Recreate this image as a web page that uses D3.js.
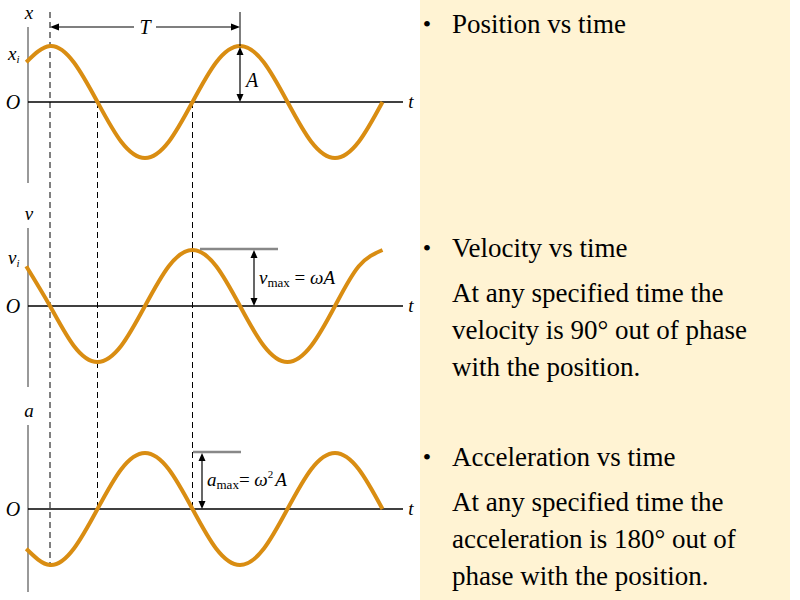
<!DOCTYPE html>
<html><head><meta charset="utf-8">
<script src="https://cdn.jsdelivr.net/npm/d3@7"></script>
<style>body{margin:0;background:#fff} text{font-family:'Liberation Serif','DejaVu Serif',serif}</style></head>
<body><svg id="c" width="800" height="600"></svg>
<script>
// time in eighths of a period (T = 8)
const times = [-1,0,1,2,3,4,5,6,7,8,9,10,11,12,13,14];
const position = [0.71,1,0.71,0,-0.71,-1,-0.71,0,0.71,1,0.71,0,-0.71,-1,-0.71,0];
const velocity = [0.71,0,-0.71,-1,-0.71,0,0.71,1,0.71,0,-0.71,-1,-0.71,0,0.71,1];
const acceleration = [-0.71,-1,-0.71,0,0.71,1,0.71,0,-0.71,-1,-0.71,0,0.71,1,0.71,0];
const panels = [
  {vals: position, axisLabel:"x", init:"x", zero:102},
  {vals: velocity, axisLabel:"v", init:"v", zero:306},
  {vals: acceleration, axisLabel:"a", init:null, zero:509}
];
const bullets = [
  {head:"Position vs time", body:[]},
  {head:"Velocity vs time", body:["At any specified time the","velocity is 90° out of phase","with the position."]},
  {head:"Acceleration vs time", body:["At any specified time the","acceleration is 180° out of","phase with the position."]}
];

const svg = d3.select("#c");
svg.append("rect").attr("x",420).attr("y",0).attr("width",370).attr("height",600).attr("fill","#fff3d3");

const x = d3.scaleLinear().domain([-1,14]).range([26.25,382.5]);
const amp = 56;

const dash = [[0,12,565],[2,102,510],[6,102,510]];
dash.forEach(d=>svg.append("line").attr("x1",x(d[0])).attr("x2",x(d[0])).attr("y1",d[1]).attr("y2",d[2])
  .attr("stroke","#000").attr("stroke-width",1).attr("stroke-dasharray","6,4"));

function arrowV(xp,y1,y2){
  svg.append("line").attr("x1",xp).attr("x2",xp).attr("y1",y1+6).attr("y2",y2-6).attr("stroke","#000").attr("stroke-width",1.2);
  svg.append("path").attr("d",`M${xp},${y1} l-3.5,8 l7,0z`).attr("fill","#000");
  svg.append("path").attr("d",`M${xp},${y2} l-3.5,-8 l7,0z`).attr("fill","#000");
}
function it(sel){return sel.attr("font-style","italic");}

panels.forEach((p,i)=>{
  const y = d3.scaleLinear().domain([-1,1]).range([p.zero+amp,p.zero-amp]);
  const top = [27,228,425][i], bot=[183,387,592][i];
  svg.append("line").attr("x1",28).attr("x2",28).attr("y1",top).attr("y2",bot).attr("stroke","#777").attr("stroke-width",1.5);
  svg.append("line").attr("x1",28).attr("x2",403).attr("y1",p.zero).attr("y2",p.zero).attr("stroke","#000").attr("stroke-width",1.5);
  it(svg.append("text").attr("x",13).attr("y",p.zero+7).text("O").attr("font-size",20).attr("text-anchor","middle"));
  it(svg.append("text").attr("x",411).attr("y",p.zero+6).text("t").attr("font-size",19).attr("text-anchor","middle"));
  it(svg.append("text").attr("x",29).attr("y",top-8).text(p.axisLabel).attr("font-size",19).attr("text-anchor","middle"));
  if(p.init){
    const t = it(svg.append("text").attr("x",8).attr("y",[60,264][i]).attr("font-size",19));
    t.append("tspan").text(p.init);
    t.append("tspan").text("i").attr("font-size",11).attr("dy",3);
  }
  const line = d3.line().x((d,j)=>x(times[j])).y(d=>y(d)).curve(d3.curveNatural);
  svg.append("path").datum(p.vals).attr("d",line).attr("fill","none").attr("stroke","#d98d12").attr("stroke-width",4);
});

svg.append("line").attr("x1",x(8)).attr("x2",x(8)).attr("y1",12).attr("y2",46).attr("stroke","#000");
svg.append("line").attr("x1",x(0)+8).attr("x2",x(8)-8).attr("y1",27).attr("y2",27).attr("stroke","#000").attr("stroke-width",1.2);
svg.append("path").attr("d",`M${x(0)},27 l9,-3.5 l0,7z`);
svg.append("path").attr("d",`M${x(8)},27 l-9,-3.5 l0,7z`);
svg.append("rect").attr("x",134).attr("y",18).attr("width",22).attr("height",18).attr("fill","#fff");
it(svg.append("text").attr("x",145).attr("y",34).text("T").attr("font-size",20).attr("text-anchor","middle"));
arrowV(x(8),47,102);
it(svg.append("text").attr("x",246).attr("y",87).text("A").attr("font-size",20));

svg.append("line").attr("x1",200).attr("x2",278).attr("y1",249).attr("y2",249).attr("stroke","#888").attr("stroke-width",2.5);
arrowV(254,250,306);
let tv = svg.append("text").attr("x",259).attr("y",284).attr("font-size",19);
it(tv.append("tspan").text("v"));
tv.append("tspan").text("max").attr("font-size",13).attr("dy",3);
tv.append("tspan").text(" = ").attr("dy",-3);
it(tv.append("tspan").text("ωA"));

svg.append("line").attr("x1",193).attr("x2",241).attr("y1",452).attr("y2",452).attr("stroke","#888").attr("stroke-width",2.5);
arrowV(202,453,509);
let ta = svg.append("text").attr("x",207).attr("y",486).attr("font-size",19);
it(ta.append("tspan").text("a"));
ta.append("tspan").text("max").attr("font-size",13).attr("dy",3);
ta.append("tspan").text("= ").attr("dy",-3);
it(ta.append("tspan").text("ω"));
ta.append("tspan").text("2").attr("font-size",11).attr("dy",-8);
it(ta.append("tspan").text("A").attr("dy",8).attr("dx",2));

const heads = [33,257,466];
bullets.forEach((b,i)=>{
  svg.append("text").attr("x",427).attr("y",heads[i]-1).text("•").attr("font-size",24).attr("text-anchor","middle");
  svg.append("text").attr("x",452).attr("y",heads[i]).text(b.head).attr("font-size",27);
  b.body.forEach((l,k)=>svg.append("text").attr("x",452).attr("y",heads[i]+45+k*37).text(l).attr("font-size",27));
});
</script></body></html>
